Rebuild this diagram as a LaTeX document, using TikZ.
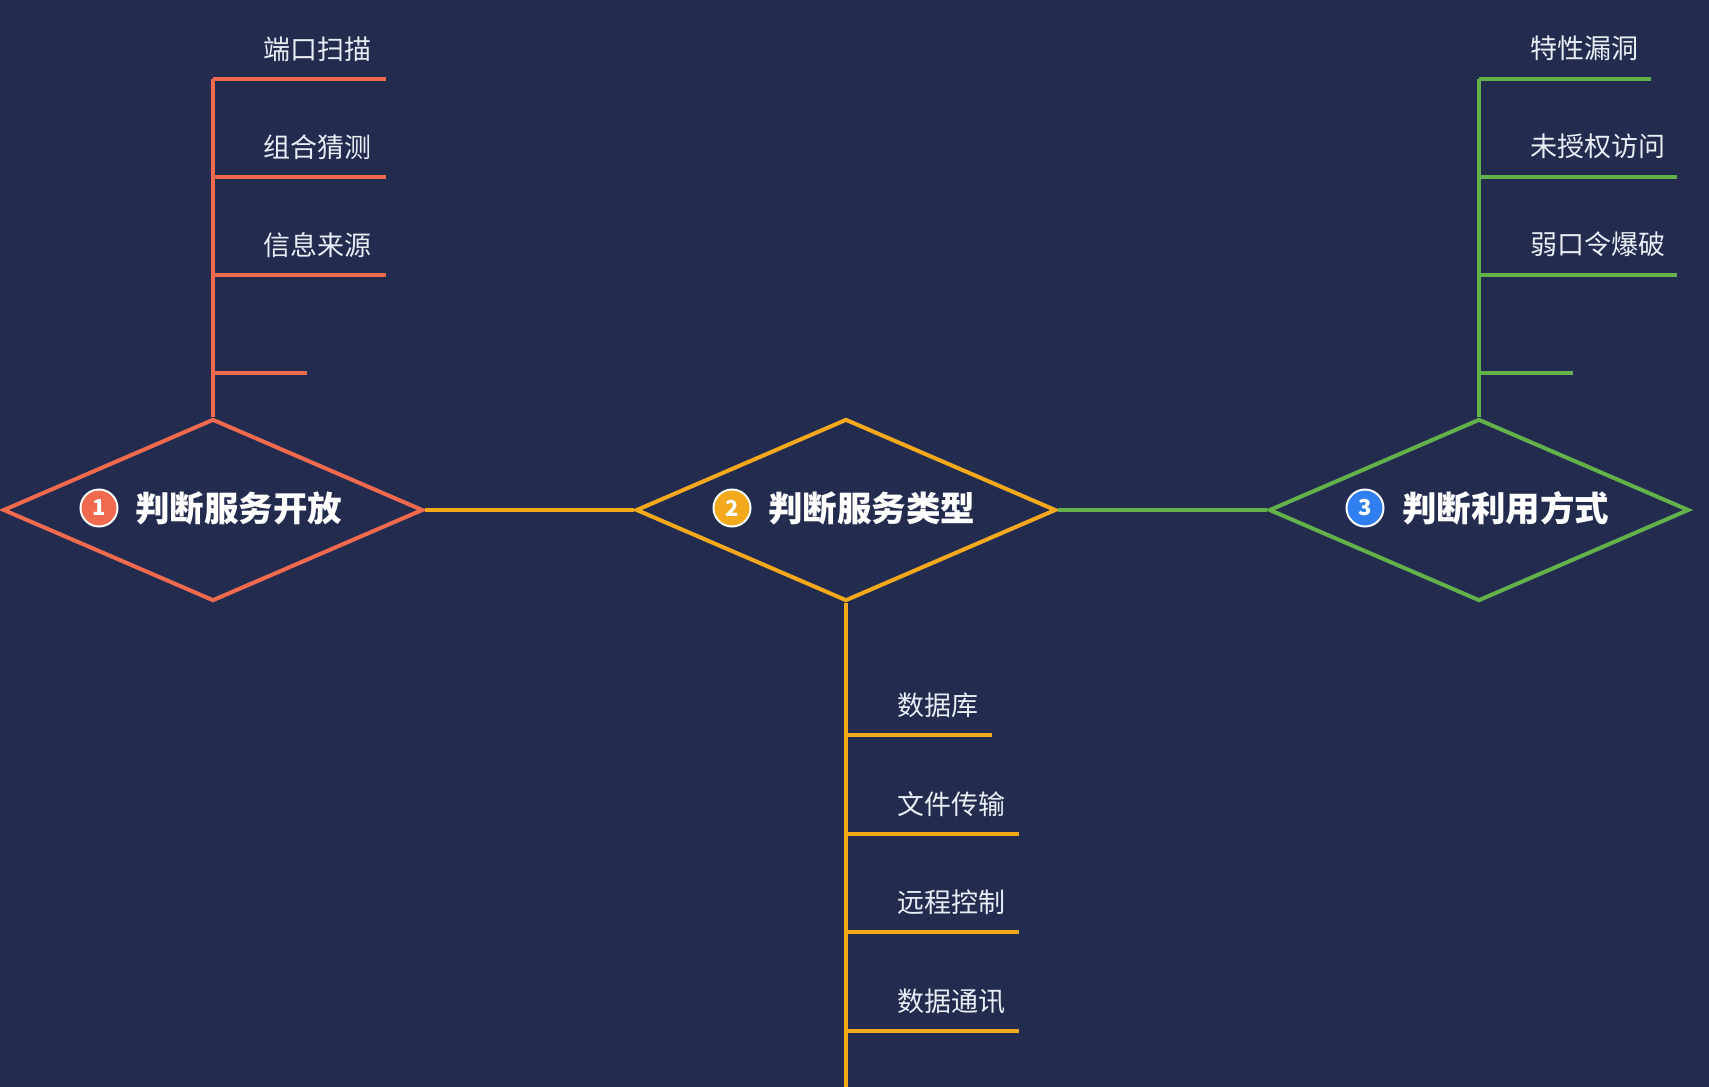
\documentclass[tikz,border=0pt]{standalone}
\usepackage{fontspec}
\setmainfont{Noto Sans CJK SC}
\usetikzlibrary{shapes.geometric}
\definecolor{bg}{HTML}{232B4F}
\definecolor{cred}{HTML}{EF6A4E}
\definecolor{corange}{HTML}{F4A81C}
\definecolor{cgreen}{HTML}{62B14A}
\definecolor{cblue}{HTML}{2F7FF0}
\definecolor{txt}{HTML}{E9EDF5}
\tikzset{
  dia/.style={diamond, draw=#1, line width=4pt, minimum width=420pt, minimum height=182pt, inner sep=0pt},
  branch/.style={draw=#1, line width=3.5pt},
  leaf/.style={anchor=west, inner sep=0pt, text=txt, font=\fontsize{27}{30}\selectfont},
  title/.style={anchor=west, inner sep=0pt, text=white, font=\bfseries\fontsize{34.5}{38}\selectfont},
  num/.style={circle, fill=#1, draw=white, line width=2pt, minimum size=37pt, inner sep=0pt, text=white, font=\bfseries\fontsize{22}{24}\selectfont}
}
\begin{document}
\begin{tikzpicture}[x=1pt, y=-1pt]
\fill[bg] (0,0) rectangle (1709,1087);
\useasboundingbox (0,0) rectangle (1709,1087);

% diamonds
\node[dia=cred] (d1) at (213,510) {};
\node[dia=corange] (d2) at (846,510) {};
\node[dia=cgreen] (d3) at (1479,510) {};

% titles
\node[num=cred] (n1) at (99,508) {1};
\node[title] (t1) at (135,508) {判断服务开放};
\node[num=corange] (n2) at (732,508) {2};
\node[title] (t2) at (768,508) {判断服务类型};
\node[num=cblue] (n3) at (1365,508) {3};
\node[title] (t3) at (1402,508) {判断利用方式};

% connectors between diamonds
\draw[branch=corange] (d1.east) -- (d2.west);
\draw[branch=cgreen] (d2.east) -- (d3.west);

% left tree
\coordinate (l0) at (213,79);
\coordinate (l1) at (213,177);
\coordinate (l2) at (213,275);
\coordinate (l3) at (213,373);
\coordinate (le0) at (386,79);
\coordinate (le1) at (386,177);
\coordinate (le2) at (386,275);
\coordinate (le3) at (307,373);
\draw[branch=cred] (d1.north) -- (l0);
\draw[branch=cred] (l0) -- (le0);
\draw[branch=cred] (l1) -- (le1);
\draw[branch=cred] (l2) -- (le2);
\draw[branch=cred] (l3) -- (le3);
\node[leaf] (a1) at (263,49) {端口扫描};
\node[leaf] (a2) at (263,147) {组合猜测};
\node[leaf] (a3) at (263,245) {信息来源};

% right tree
\coordinate (r0) at (1479,79);
\coordinate (r1) at (1479,177);
\coordinate (r2) at (1479,275);
\coordinate (r3) at (1479,373);
\coordinate (re0) at (1651,79);
\coordinate (re1) at (1677,177);
\coordinate (re2) at (1677,275);
\coordinate (re3) at (1573,373);
\draw[branch=cgreen] (d3.north) -- (r0);
\draw[branch=cgreen] (r0) -- (re0);
\draw[branch=cgreen] (r1) -- (re1);
\draw[branch=cgreen] (r2) -- (re2);
\draw[branch=cgreen] (r3) -- (re3);
\node[leaf] (c1) at (1530,48) {特性漏洞};
\node[leaf] (c2) at (1530,146) {未授权访问};
\node[leaf] (c3) at (1530,244) {弱口令爆破};

% bottom tree
\coordinate (b0) at (846,735);
\coordinate (b1) at (846,834);
\coordinate (b2) at (846,932);
\coordinate (b3) at (846,1031);
\coordinate (bend) at (846,1090);
\coordinate (be0) at (992,735);
\coordinate (be1) at (1019,834);
\coordinate (be2) at (1019,932);
\coordinate (be3) at (1019,1031);
\draw[branch=corange] (d2.south) -- (bend);
\draw[branch=corange] (b0) -- (be0);
\draw[branch=corange] (b1) -- (be1);
\draw[branch=corange] (b2) -- (be2);
\draw[branch=corange] (b3) -- (be3);
\node[leaf] (e1) at (897,705) {数据库};
\node[leaf] (e2) at (897,804) {文件传输};
\node[leaf] (e3) at (897,902) {远程控制};
\node[leaf] (e4) at (897,1001) {数据通讯};
\end{tikzpicture}
\end{document}
